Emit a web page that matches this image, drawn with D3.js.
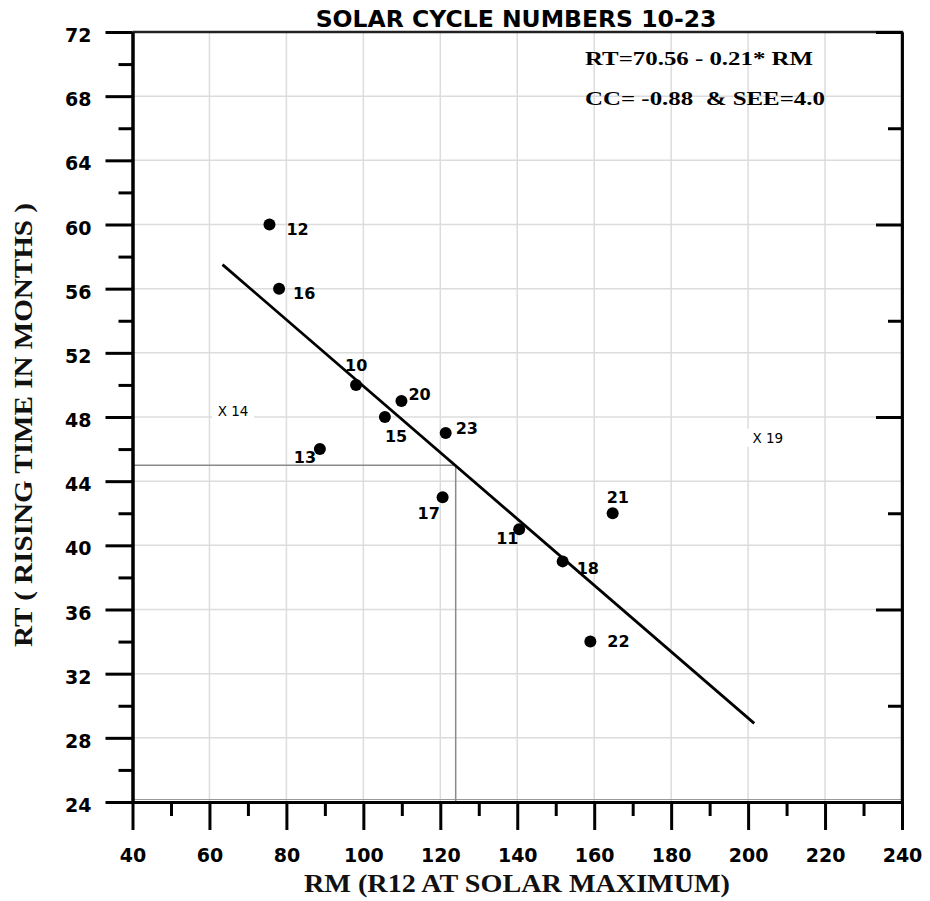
<!DOCTYPE html>
<html>
<head>
<meta charset="utf-8">
<script src="https://cdn.jsdelivr.net/npm/d3@7"></script>
<style>
  body { margin: 0; background: #fff; }
  svg { display: block; }
</style>
</head>
<body>
<svg id="chart"></svg>
<script>
// cycles used in the fit
const cycles = [10, 11, 12, 13, 15, 16, 17, 18, 20, 21, 22, 23];
const rm = [98.1, 140.5, 75.6, 88.7, 105.6, 78.1, 120.6, 151.8, 109.9, 164.8, 159.0, 121.4];
const rt = [50, 41, 60, 46, 48, 56, 43, 39, 49, 42, 34, 47];

// cycles left out (drawn as X)
const outCycles = [14, 19];
const outRm = [63.3, 202.3];
const outRt = [48.4, 46.7];

// regression line ends and the reading guide
const fitRm = [63.4, 201.6];
const fitRt = [57.5, 28.9];
const guideRm = 124;
const guideRt = 45;

const xMajor = [40, 60, 80, 100, 120, 140, 160, 180, 200, 220, 240];
const xMinor = [50, 70, 90, 110, 130, 150, 170, 190, 210, 230];
const yMajor = [24, 28, 32, 36, 40, 44, 48, 52, 56, 60, 64, 68, 72];
const yMinor = [26, 30, 34, 38, 42, 46, 50, 54, 58, 62, 66, 70];
const rightMajor = [24, 36, 48, 60, 72];
const rightMinor = [30, 42, 54, 66];

const title = "SOLAR CYCLE NUMBERS 10-23";
const xTitle = "RM (R12 AT SOLAR MAXIMUM)";
const yTitle = "RT ( RISING TIME IN MONTHS )";
const eqText = "RT=70.56 - 0.21* RM";
const ccText = "CC= -0.88  & SEE=4.0";

// label placement next to each dot (dx, dy of text start / baseline)
const labelPos = {
  10: [-11, -14], 11: [-23, 15], 12: [17, 10], 13: [-26, 14],
  15: [0, 25], 16: [14, 10], 17: [-25, 22], 18: [14, 13],
  20: [7, -1], 21: [-6, -10], 22: [17, 5], 23: [10, 1]
};

const w = 930, h = 901;
const pLeft = 132.5, pRight = 902, pTop = 32, pBottom = 802;
const sans = "'DejaVu Sans', Verdana, sans-serif";
const serif = "'Liberation Serif', 'Times New Roman', serif";

const svg = d3.select("#chart").attr("width", w).attr("height", h);

const x = d3.scaleLinear().domain([40, 240]).range([pLeft, pRight]);
const y = d3.scaleLinear().domain([24, 72]).range([pBottom, pTop]);

// grid
const grid = svg.append("g").attr("stroke", "#dcdcdc").attr("stroke-width", 1.5);
grid.selectAll(".gx").data(xMajor.slice(1, -1)).enter().append("line")
  .attr("x1", d => x(d)).attr("x2", d => x(d)).attr("y1", pTop).attr("y2", pBottom);
grid.selectAll(".gy").data(yMajor.slice(1, -1)).enter().append("line")
  .attr("x1", pLeft).attr("x2", pRight).attr("y1", d => y(d)).attr("y2", d => y(d));

// faint frame line just above the bottom axis
svg.append("line")
  .attr("x1", pLeft).attr("x2", pRight)
  .attr("y1", pBottom - 2.5).attr("y2", pBottom - 2.5)
  .attr("stroke", "#999").attr("stroke-width", 1);

// guide lines
svg.append("path")
  .attr("d", `M${x(40)},${y(guideRt)}H${x(guideRm)}V${y(24)}`)
  .attr("fill", "none").attr("stroke", "#8a8a8a").attr("stroke-width", 1.5);

// frame top and right
svg.append("path")
  .attr("d", `M${pLeft},${pTop}H${pRight}V${pBottom}`)
  .attr("fill", "none").attr("stroke", "#222").attr("stroke-width", 2.5);

function styleAxis(g) {
  g.select(".domain").attr("stroke", "#000").attr("stroke-width", 3);
  g.selectAll(".tick line").attr("stroke", "#000").attr("stroke-width", 3);
  g.selectAll(".tick text")
    .attr("fill", "#000")
    .style("font-family", sans)
    .style("font-weight", "bold")
    .style("font-size", "19px");
}

// left axis
svg.append("g").attr("transform", `translate(${pLeft},0)`)
  .call(d3.axisLeft(y).tickValues(yMinor).tickSize(14).tickFormat("").tickSizeOuter(0))
  .call(styleAxis);
svg.append("g").attr("transform", `translate(${pLeft},0)`)
  .call(d3.axisLeft(y).tickValues(yMajor).tickSize(27).tickPadding(14).tickSizeOuter(0))
  .call(styleAxis)
  .call(g => g.selectAll(".tick text").attr("dy", "0.5em"));

// bottom axis
svg.append("g").attr("transform", `translate(0,${pBottom})`)
  .call(d3.axisBottom(x).tickValues(xMinor).tickSize(14).tickFormat("").tickSizeOuter(0))
  .call(styleAxis);
svg.append("g").attr("transform", `translate(0,${pBottom})`)
  .call(d3.axisBottom(x).tickValues(xMajor).tickSize(28).tickPadding(18.5).tickSizeOuter(0))
  .call(styleAxis);

// right axis, ticks inward, no labels
svg.append("g").attr("transform", `translate(${pRight},0)`)
  .call(d3.axisLeft(y).tickValues(rightMinor).tickSize(14).tickFormat("").tickSizeOuter(0))
  .call(styleAxis)
  .call(g => g.select(".domain").attr("stroke-width", 2.5));
svg.append("g").attr("transform", `translate(${pRight},0)`)
  .call(d3.axisLeft(y).tickValues(rightMajor).tickSize(26).tickFormat("").tickSizeOuter(0))
  .call(styleAxis)
  .call(g => g.select(".domain").attr("stroke-width", 2.5));

// regression line
svg.append("line")
  .attr("x1", x(fitRm[0])).attr("y1", y(fitRt[0]))
  .attr("x2", x(fitRm[1])).attr("y2", y(fitRt[1]))
  .attr("stroke", "#000").attr("stroke-width", 2.8);

// excluded cycles
const outs = outCycles.map((c, i) => ({ c, rm: outRm[i], rt: outRt[i] }));
const outG = svg.selectAll(".out").data(outs).enter().append("g").attr("class", "out");
outG.append("rect")
  .attr("x", d => x(d.rm) - 10).attr("y", d => y(d.rt) - 9)
  .attr("width", 42).attr("height", 18).attr("fill", "#fff");
outG.append("text")
  .attr("x", d => x(d.rm) - 4.5).attr("y", d => y(d.rt) + 5)
  .style("font-family", sans).style("font-size", "13.5px").attr("fill", "#000")
  .text(d => "X " + d.c);

// dots
const pts = cycles.map((c, i) => ({ c, rm: rm[i], rt: rt[i] }));
svg.selectAll(".dot").data(pts).enter().append("circle")
  .attr("class", "dot")
  .attr("cx", d => x(d.rm)).attr("cy", d => y(d.rt))
  .attr("r", 6).attr("fill", "#000");
svg.selectAll(".lbl").data(pts).enter().append("text")
  .attr("class", "lbl")
  .attr("x", d => x(d.rm) + labelPos[d.c][0])
  .attr("y", d => y(d.rt) + labelPos[d.c][1])
  .style("font-family", sans).style("font-weight", "bold").style("font-size", "16px")
  .attr("fill", "#000")
  .text(d => d.c);

// title
svg.append("text")
  .attr("x", 516).attr("y", 27).attr("text-anchor", "middle")
  .style("font-family", sans).style("font-weight", "bold").style("font-size", "23.5px")
  .text(title);

// axis titles
svg.append("text")
  .attr("x", 517).attr("y", 892).attr("text-anchor", "middle")
  .attr("textLength", 426).attr("lengthAdjust", "spacingAndGlyphs")
  .style("font-family", serif).style("font-weight", "bold").style("font-size", "25px")
  .attr("fill", "#111")
  .text(xTitle);
svg.append("text")
  .attr("transform", "translate(32,425) rotate(-90)")
  .attr("text-anchor", "middle")
  .attr("textLength", 444).attr("lengthAdjust", "spacingAndGlyphs")
  .style("font-family", serif).style("font-weight", "bold").style("font-size", "25px")
  .attr("fill", "#111")
  .text(yTitle);

// fit annotation
svg.append("text")
  .attr("x", 585).attr("y", 65)
  .attr("textLength", 228).attr("lengthAdjust", "spacingAndGlyphs")
  .style("font-family", serif).style("font-weight", "bold").style("font-size", "19px")
  .text(eqText);
svg.append("text")
  .attr("x", 585).attr("y", 105)
  .attr("textLength", 240).attr("lengthAdjust", "spacingAndGlyphs")
  .style("font-family", serif).style("font-weight", "bold").style("font-size", "19px")
  .style("white-space", "pre")
  .text(ccText);
</script>
</body>
</html>
